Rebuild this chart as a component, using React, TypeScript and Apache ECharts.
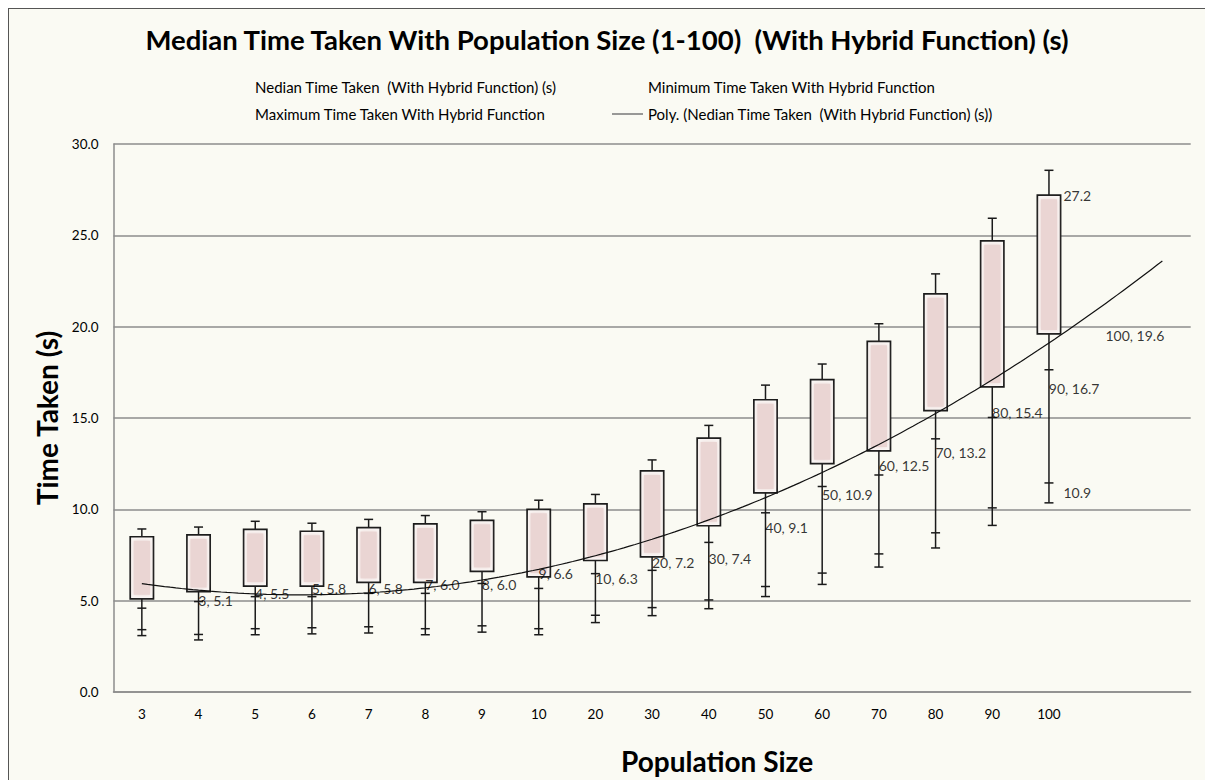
import React, { useEffect, useRef } from "react";
import * as echarts from "echarts";

// Population sizes tested, plus two empty slots that the trendline forecast runs into
const populationSizes = ["3", "4", "5", "6", "7", "8", "9", "10", "20", "30", "40", "50", "60", "70", "80", "90", "100"];
const forecastSlots = ["", ""];

// Time taken (s) per population size
const medianTimes = [5.1, 5.5, 5.8, 5.8, 6.0, 6.0, 6.6, 6.3, 7.2, 7.4, 9.1, 10.9, 12.5, 13.2, 15.4, 16.7, 19.6];
const minimumTimes = [3.25, 3.0, 3.3, 3.35, 3.4, 3.3, 3.45, 3.3, 4.0, 4.4, 4.8, 5.5, 6.2, 7.2, 8.3, 9.6, 10.9];
const maximumTimes = [8.5, 8.6, 8.9, 8.8, 9.0, 9.2, 9.4, 10.0, 10.3, 12.1, 13.9, 16.0, 17.1, 19.2, 21.8, 24.7, 27.2];

// Error bar percentages on each series
const MAX_ERROR_PCT = 5;
const MIN_ERROR_PCT = 5;
const MEDIAN_ERROR_PCT = 10;
const TREND_FORWARD = 2;

const MEDIAN_NAME = "Nedian Time Taken  (With Hybrid Function) (s)";
const MIN_NAME = "Minimum Time Taken With Hybrid Function";
const MAX_NAME = "Maximum Time Taken With Hybrid Function";
const POLY_NAME = "Poly. (Nedian Time Taken  (With Hybrid Function) (s))";

const FONT = "Lato, 'Open Sans', sans-serif";
const INK = "#000";
const GRID_GREY = "#8c8c8c";
const LEGEND_LINE_ICON = "path://M0,0H31V1.4H0Z";

// Least-squares quadratic y = a + b x + c x^2, x = 1..n
function fitQuadratic(ys: number[]): number[] {
  let s0 = 0, s1 = 0, s2 = 0, s3 = 0, s4 = 0, t0 = 0, t1 = 0, t2 = 0;
  ys.forEach((y, i) => {
    const x = i + 1;
    s0 += 1; s1 += x; s2 += x * x; s3 += x ** 3; s4 += x ** 4;
    t0 += y; t1 += x * y; t2 += x * x * y;
  });
  const m = [
    [s0, s1, s2, t0],
    [s1, s2, s3, t1],
    [s2, s3, s4, t2],
  ];
  for (let c = 0; c < 3; c++) {
    for (let r = c + 1; r < 3; r++) {
      const f = m[r][c] / m[c][c];
      for (let k = c; k < 4; k++) m[r][k] -= f * m[c][k];
    }
  }
  const sol = [0, 0, 0];
  for (let r = 2; r >= 0; r--) {
    let v = m[r][3];
    for (let k = r + 1; k < 3; k++) v -= m[r][k] * sol[k];
    sol[r] = v / m[r][r];
  }
  return sol;
}

export default function App() {
  const ref = useRef<HTMLDivElement>(null);

  useEffect(() => {
    if (!ref.current) return;
    const chart = echarts.init(ref.current, undefined, { renderer: "svg" });

    const [a, b, c] = fitQuadratic(medianTimes);
    const lastX = medianTimes.length + TREND_FORWARD;
    const trend: number[][] = [];
    for (let k = 0; k <= (lastX - 1) * 10; k++) {
      const x = 1 + k / 10;
      trend.push([x, a + b * x + c * x * x]);
    }

    const last = populationSizes.length - 1;
    const boxData = populationSizes.map((_, i) => [i, medianTimes[i], minimumTimes[i], maximumTimes[i]]);

    const renderBox = (params: any, api: any) => {
      const i = api.value(0);
      const med = api.value(1);
      const lo = api.value(2);
      const hi = api.value(3);
      const [x, yMed] = api.coord([i, med]);
      const yHi = api.coord([i, hi])[1];
      const yHiErr = api.coord([i, hi * (1 + MAX_ERROR_PCT / 100)])[1];
      const yLoUp = api.coord([i, lo * (1 + MIN_ERROR_PCT / 100)])[1];
      const yLoDn = api.coord([i, lo * (1 - MIN_ERROR_PCT / 100)])[1];
      const yMedErr = api.coord([i, med * (1 - MEDIAN_ERROR_PCT / 100)])[1];
      const bw = api.size([1, 0])[0] * 0.41;
      const cap = 9;
      const stroke = { stroke: "#1a1a1a", lineWidth: 1.5 };
      const capLine = (y: number) => ({
        type: "line",
        shape: { x1: x - cap / 2, y1: y, x2: x + cap / 2, y2: y },
        style: stroke,
      });
      return {
        type: "group",
        children: [
          { type: "line", shape: { x1: x, y1: yHiErr, x2: x, y2: yLoDn }, style: stroke },
          capLine(yHiErr),
          capLine(yMedErr),
          capLine(yLoUp),
          capLine(yLoDn),
          {
            type: "rect",
            shape: { x: x - bw / 2, y: yHi, width: bw, height: yMed - yHi },
            style: { fill: "#FBF8F6", stroke: "#1a1a1a", lineWidth: 1.7 },
          },
          {
            type: "rect",
            shape: { x: x - bw / 2 + 3.5, y: yHi + 4, width: bw - 7, height: Math.max(0, yMed - yHi - 8) },
            style: { fill: "#EAD5D3", shadowBlur: 4, shadowColor: "#EAD5D3" },
          },
        ],
      };
    };

    const labelStyle = { fontFamily: FONT, fontSize: 14, color: INK };
    const legendText = { fontFamily: FONT, fontSize: 15, color: INK, lineHeight: 16 };

    chart.setOption({
      animation: false,
      backgroundColor: "#FAFAF3",
      title: {
        text: "Median Time Taken With Population Size (1-100)  (With Hybrid Function) (s)",
        left: "center",
        top: 11,
        textStyle: { fontFamily: FONT, fontWeight: "bold", fontSize: 27.5, color: INK },
      },
      legend: [
        {
          orient: "vertical",
          left: 205,
          top: 65,
          icon: LEGEND_LINE_ICON,
          itemWidth: 31,
          itemHeight: 1.4,
          itemGap: 11,
          textStyle: legendText,
          data: [
            { name: MEDIAN_NAME, itemStyle: { opacity: 0 } },
            { name: MAX_NAME, itemStyle: { opacity: 0 } },
          ],
        },
        {
          orient: "vertical",
          left: 598,
          top: 65,
          icon: LEGEND_LINE_ICON,
          itemWidth: 31,
          itemHeight: 1.4,
          itemGap: 11,
          textStyle: legendText,
          data: [
            { name: MIN_NAME, itemStyle: { opacity: 0 } },
            { name: POLY_NAME, itemStyle: { color: "#6e6e6e" } },
          ],
        },
      ],
      grid: { left: 104.5, top: 135, right: 14.3, bottom: 85.3, containLabel: false },
      xAxis: [
        {
          type: "category",
          data: [...populationSizes, ...forecastSlots],
          boundaryGap: true,
          axisLine: { lineStyle: { color: GRID_GREY, width: 1.5 } },
          axisTick: { show: false },
          axisLabel: { interval: 0, margin: 15, fontFamily: FONT, fontSize: 13.5, color: INK },
          name: "Population Size",
          nameLocation: "middle",
          nameGap: 55,
          nameTextStyle: {
            fontFamily: FONT,
            fontWeight: "bold",
            fontSize: 28,
            color: INK,
            padding: [0, 0, 0, 130],
          },
        },
        {
          type: "value",
          min: 0.5,
          max: populationSizes.length + forecastSlots.length + 0.5,
          show: false,
        },
      ],
      yAxis: {
        type: "value",
        min: 0,
        max: 30,
        interval: 5,
        axisLine: { show: true, lineStyle: { color: GRID_GREY, width: 1.5 } },
        axisTick: { show: false },
        splitLine: { lineStyle: { color: GRID_GREY, width: 1.5 } },
        axisLabel: {
          margin: 15,
          fontFamily: FONT,
          fontSize: 13.5,
          color: INK,
          formatter: (v: number) => v.toFixed(1),
        },
        name: "Time Taken (s)",
        nameLocation: "middle",
        nameRotate: 90,
        nameGap: 51,
        nameTextStyle: { fontFamily: FONT, fontWeight: "bold", fontSize: 28, color: INK },
      },
      series: [
        {
          type: "custom",
          name: "boxes",
          xAxisIndex: 0,
          renderItem: renderBox,
          data: boxData,
          encode: { x: 0, y: [1, 2, 3] },
          z: 2,
          silent: true,
        },
        {
          type: "line",
          name: POLY_NAME,
          xAxisIndex: 1,
          data: trend,
          symbol: "none",
          showSymbol: false,
          lineStyle: { color: "#111", width: 1.2 },
          itemStyle: { color: "#111" },
          z: 3,
          silent: true,
        },
        {
          type: "scatter",
          name: MEDIAN_NAME,
          xAxisIndex: 0,
          data: medianTimes.map((v, i) => [i, v]),
          symbolSize: 1,
          itemStyle: { color: "transparent" },
          z: 4,
          label: {
            show: true,
            position: "right",
            distance: 56,
            offset: [0, 2],
            ...labelStyle,
            formatter: (p: any) => `${populationSizes[p.dataIndex]}, ${p.value[1].toFixed(1)}`,
          },
        },
        {
          type: "scatter",
          name: MIN_NAME,
          xAxisIndex: 0,
          data: minimumTimes.map((v, i) =>
            i === last ? { value: [i, v], label: { show: true } } : [i, v]
          ),
          symbolSize: 1,
          itemStyle: { color: "transparent" },
          z: 4,
          label: {
            show: false,
            position: "right",
            distance: 14,
            ...labelStyle,
            formatter: (p: any) => p.value[1].toFixed(1),
          },
        },
        {
          type: "scatter",
          name: MAX_NAME,
          xAxisIndex: 0,
          data: maximumTimes.map((v, i) =>
            i === last ? { value: [i, v], label: { show: true } } : [i, v]
          ),
          symbolSize: 1,
          itemStyle: { color: "transparent" },
          z: 4,
          label: {
            show: false,
            position: "right",
            distance: 14,
            ...labelStyle,
            formatter: (p: any) => p.value[1].toFixed(1),
          },
        },
      ],
    });

    return () => chart.dispose();
  }, []);

  return (
    <div
      style={{
        position: "fixed",
        left: 8,
        top: 8,
        right: 0,
        bottom: 0,
        borderTop: "1px solid #555",
        borderLeft: "1px solid #555",
        background: "#FAFAF3",
      }}
    >
      <div ref={ref} style={{ width: "100%", height: "100%" }} />
    </div>
  );
}
